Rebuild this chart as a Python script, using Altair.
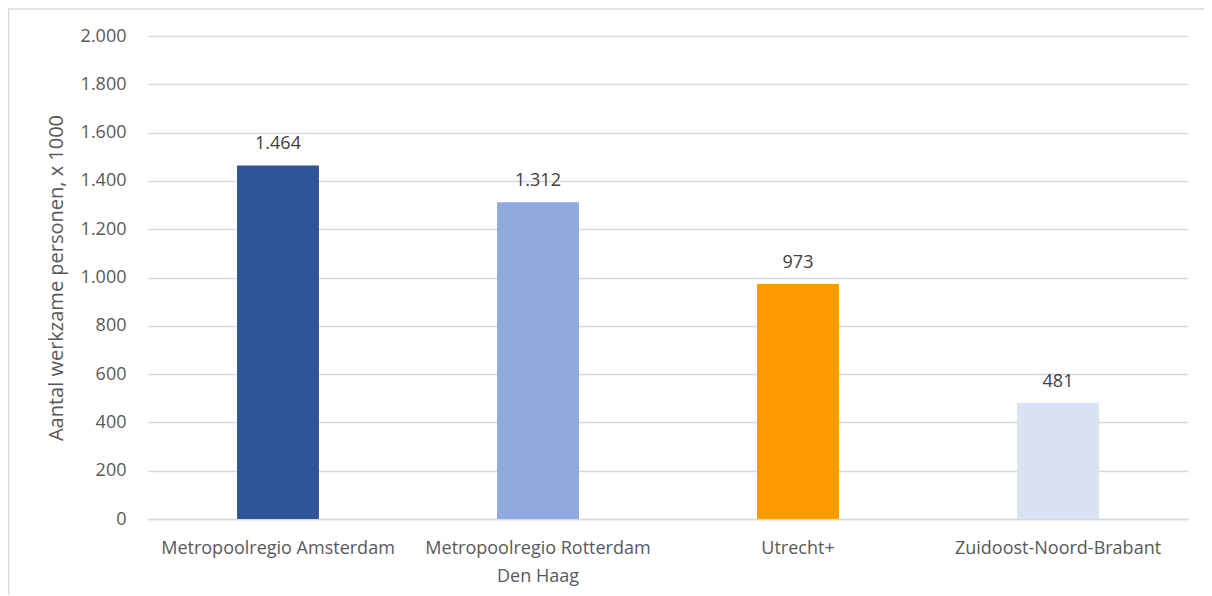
import altair as alt
import pandas as pd

regions = ["Metropoolregio Amsterdam", "Metropoolregio Rotterdam Den Haag", "Utrecht+", "Zuidoost-Noord-Brabant"]
values = [1464, 1312, 973, 481]
colors = ["#2F5597", "#8FAADC", "#FF9900", "#DAE3F3"]
y_ticks = [0, 200, 400, 600, 800, 1000, 1200, 1400, 1600, 1800, 2000]

df = pd.DataFrame({"regio": regions, "waarde": values, "kleur": colors})

FONT = "Open Sans"
FS = 18
W, H = 1040, 483

label_expr = ("datum.value == 'Metropoolregio Rotterdam Den Haag' ? "
              "['Metropoolregio Rotterdam', 'Den Haag'] : datum.value")

x = alt.X("regio:N", sort=regions, title=None,
          scale=alt.Scale(paddingInner=0.685, paddingOuter=0.3425),
          axis=alt.Axis(labelAngle=0, labelFont=FONT, labelFontSize=FS, labelColor="#595959",
                        labelExpr=label_expr, labelPadding=20, labelLineHeight=28,
                        ticks=False, domainColor="#D9D9D9", domainWidth=1.3, labelLimit=400))
y = alt.Y("waarde:Q", title="Aantal werkzame personen, x 1000",
          scale=alt.Scale(domain=[0, 2000]),
          axis=alt.Axis(values=y_ticks, labelFont=FONT, labelFontSize=FS, labelColor="#595959",
                        labelExpr="replace(format(datum.value, ','), ',', '.')",
                        ticks=False, domain=False, gridColor="#D9D9D9", gridWidth=1.3,
                        labelPadding=22, titleFont=FONT, titleFontSize=20, titleFontWeight="normal",
                        titleColor="#595959", titlePadding=14))

bars = alt.Chart(df).mark_bar().encode(
    x=x, y=y, color=alt.Color("kleur:N", scale=None))

texts = alt.Chart(df).transform_calculate(
    lab="replace(format(datum.waarde, ','), ',', '.')"
).mark_text(dy=-12, baseline="bottom", font=FONT, fontSize=FS, color="#404040").encode(
    x=alt.X("regio:N", sort=regions), y="waarde:Q", text="lab:N")

frame = alt.Chart(pd.DataFrame({"a": [0]})).mark_rect(
    fill=None, stroke="#D9D9D9", strokeWidth=1.5).encode(
    x=alt.value(-139.5), x2=alt.value(W + 40), y=alt.value(-27), y2=alt.value(H + 120))

chart = alt.layer(frame, bars, texts).properties(
    width=W, height=H,
    autosize=alt.AutoSizeParams(type="none"),
    padding={"left": 140, "top": 28, "right": 16, "bottom": 76},
).configure_view(stroke=None)

chart.save("out.html", embed_options={"renderer": "svg", "actions": False})
